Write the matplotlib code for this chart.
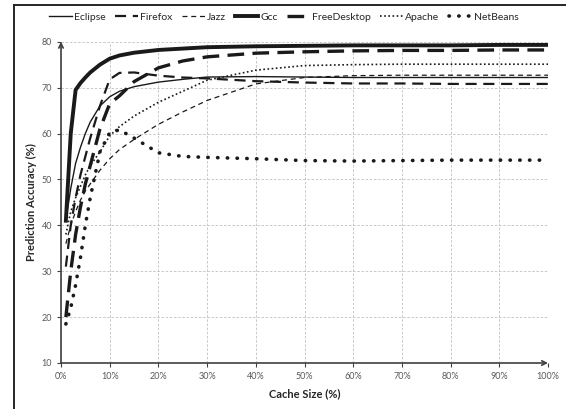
import matplotlib
matplotlib.use("Agg")
import matplotlib.pyplot as plt
from matplotlib.lines import Line2D

plt.rcParams['font.family'] = ['Lato', 'DejaVu Sans']

cache_size = [1, 2, 3, 4, 5, 6, 8, 10, 12, 15, 20, 25, 30, 40, 50, 60, 70, 80, 90, 100]

eclipse = [41, 48, 53.5, 57, 60, 62.5, 66, 68, 69.2, 70.2, 71.2, 71.8, 72.3, 72.4, 72.3, 72.2, 72.2, 72.2, 72.2, 72.2]
firefox = [31, 40, 46, 51, 55, 59, 66, 71.8, 73.2, 73.3, 72.6, 72.2, 72.0, 71.4, 71.1, 70.9, 70.9, 70.8, 70.8, 70.8]
jazz = [36, 40, 43, 45.5, 47.5, 49, 52, 54.5, 56.5, 58.7, 62, 64.7, 67.2, 70.8, 72.2, 72.6, 72.7, 72.7, 72.7, 72.7]
gcc = [41, 60, 69.5, 71, 72.2, 73.3, 75, 76.3, 77, 77.6, 78.2, 78.5, 78.8, 79, 79.1, 79.2, 79.2, 79.2, 79.3, 79.3]
freedesktop = [20, 30, 38, 44, 49, 53, 61, 66.5, 68.2, 71.3, 74.3, 75.8, 76.7, 77.5, 77.8, 78, 78.1, 78.1, 78.2, 78.2]
apache = [38, 43, 46, 48.5, 51, 53, 56, 59.5, 61.5, 63.8, 66.8, 69.2, 71.6, 73.8, 74.8, 75.0, 75.1, 75.1, 75.1, 75.1]
netbeans = [18.5, 22, 27, 33, 40, 46, 56, 60.2, 60.8, 59, 55.8, 55, 54.8, 54.5, 54.1, 54, 54.1, 54.2, 54.2, 54.2]

x_ticks = [0, 10, 20, 30, 40, 50, 60, 70, 80, 90, 100]
x_tick_labels = [f"{v}%" for v in x_ticks]
y_ticks = [10, 20, 30, 40, 50, 60, 70, 80]

W, H = 566, 409
fig = plt.figure(figsize=(W / 100, H / 100), dpi=100)
ax = fig.add_axes([61 / W, 1 - 363 / H, (548 - 61) / W, (363 - 41.7) / H])

k = '#1a1a1a'
series = [
    ("Eclipse", eclipse, dict(lw=1.0, ls='-')),
    ("Firefox", firefox, dict(lw=1.6, ls=(0, (5, 3)))),
    ("Jazz", jazz, dict(lw=0.9, ls=(0, (4, 3)))),
    ("Gcc", gcc, dict(lw=2.8, ls='-')),
    ("FreeDesktop", freedesktop, dict(lw=2.4, ls=(0, (5, 2.5)))),
    ("Apache", apache, dict(lw=1.2, ls=(0, (1, 1.5)))),
    ("NetBeans", netbeans, dict(lw=2.6, ls=(0, (0.1, 2.6)), dash_capstyle='round')),
]
handles = []
for name, vals, st in series:
    ln, = ax.plot(cache_size, vals, color=k, label=name, **st)
    handles.append(ln)

ax.set_xlim(0, 100)
ax.set_ylim(10, 80)
ax.set_xticks(x_ticks)
ax.set_xticklabels(x_tick_labels)
ax.set_yticks(y_ticks)
ax.grid(True, color='#c0c0c0', ls=(0, (3, 2)), lw=0.6)
ax.set_axisbelow(True)
for s in ['top', 'right', 'left', 'bottom']:
    ax.spines[s].set_visible(False)
ax.annotate('', xy=(0, 1.0), xytext=(0, 0), xycoords='axes fraction',
            arrowprops=dict(arrowstyle='->', color='#404040', lw=1.2, shrinkA=0, shrinkB=0,
                            mutation_scale=8))
ax.annotate('', xy=(1.0, 0), xytext=(0, 0), xycoords='axes fraction',
            arrowprops=dict(arrowstyle='->', color='#404040', lw=1.2, shrinkA=0, shrinkB=0,
                            mutation_scale=8))
ax.tick_params(axis='both', labelsize=6.5, colors='#404040', labelcolor='#595959',
               length=3, width=0.8)
ax.set_xlabel("Cache Size (%)", fontsize=8, fontweight='bold', color='#262626', labelpad=5)
ax.set_ylabel("Prediction Accuracy (%)", fontsize=8, fontweight='bold', color='#262626', labelpad=3)

fig.legend(handles=handles, loc='center', bbox_to_anchor=(284 / W, 1 - 17 / H), ncol=7,
           frameon=False, fontsize=7.5, handlelength=2.2, handletextpad=0.2,
           columnspacing=0.9, labelcolor='#262626')

fig.add_artist(Line2D([14 / W, 14 / W], [0, 1 - 5 / H], color='#262626', lw=1.4,
                      transform=fig.transFigure))
fig.add_artist(Line2D([14 / W, 1], [1 - 5 / H, 1 - 5 / H], color='#262626', lw=1.4,
                      transform=fig.transFigure))

fig.savefig("out.png", dpi=100)
